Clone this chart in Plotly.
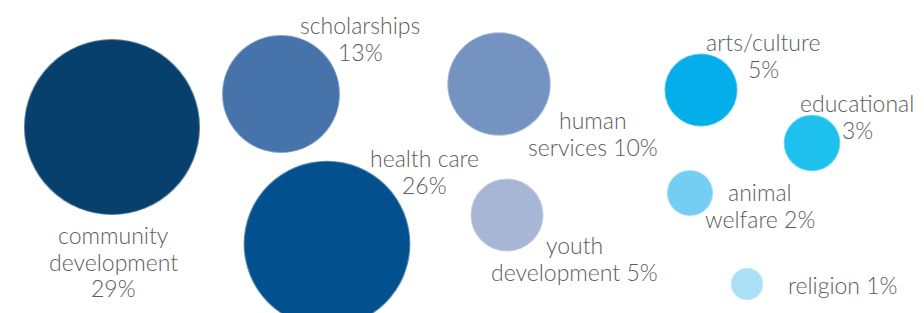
import plotly.graph_objects as go

# ---- data ----
categories = ["community development", "scholarships", "health care", "human services",
              "youth development", "arts/culture", "educational", "animal welfare", "religion"]
shares = [29, 13, 26, 10, 5, 5, 3, 2, 1]
label_lines = [["community", "development", "29%"], ["scholarships", "13%"],
               ["health care", "26%"], ["human", "services 10%"],
               ["youth", "development 5%"], ["arts/culture", "5%"],
               ["educational", "3%"], ["animal", "welfare 2%"], ["religion 1%"]]

# ---- layout (bubble centres and label positions, in page pixels) ----
bx = [112, 281, 327, 499, 507, 701, 812, 690, 747]
by = [127, 94, 244, 84, 215, 90, 143, 193, 284]
lx = [113, 360, 424, 593, 574, 763, 857, 760, 843]
ly0 = [235, 25, 158, 120, 245, 42, 103, 192, 285]   # centre of first line
line_gap = 26.5
colors = ["#073f6d", "#4673a9", "#03508f", "#7593c1", "#a8b6d6",
          "#03aeeb", "#1ec0ee", "#74cef3", "#aadff6"]

k = 32.7  # pixel diameter per sqrt(percent)
fig = go.Figure()
fig.add_trace(go.Scatter(
    x=bx, y=by, mode="markers", text=categories,
    marker=dict(size=shares, sizemode="area", sizeref=2 / k**2,
                color=colors, opacity=1,
                line=dict(width=2, color="rgba(255,255,255,0.35)")),
    hoverinfo="text", showlegend=False))

for lines, x, y0 in zip(label_lines, lx, ly0):
    for i, t in enumerate(lines):
        fig.add_annotation(x=x, y=y0 + i * line_gap, text=t, showarrow=False,
                           xanchor="center", yanchor="middle",
                           font=dict(family="Lato", size=23, color="#5c5c5c", weight=300))

fig.update_layout(
    width=924, height=313, margin=dict(l=0, r=0, t=0, b=0),
    paper_bgcolor="white", plot_bgcolor="white",
    xaxis=dict(range=[0, 924], visible=False, fixedrange=True),
    yaxis=dict(range=[313, 0], visible=False, fixedrange=True),
)
fig.write_html("out.html", config={"displayModeBar": False},
               post_script="document.body.style.margin='0';")
